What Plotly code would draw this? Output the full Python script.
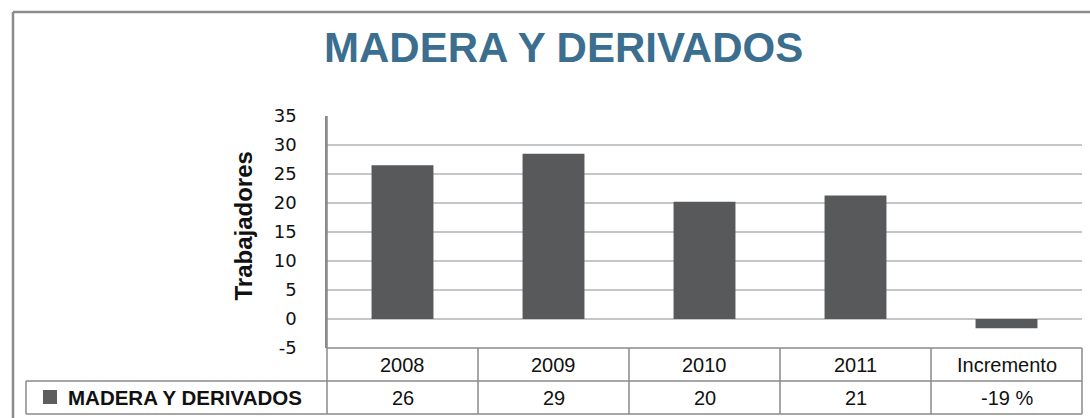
import plotly.graph_objects as go

# ---- data ----
categorias = ["2008", "2009", "2010", "2011", "Incremento"]
valores = [26.5, 28.5, 20.2, 21.3, -1.6]
etiquetas_tabla = ["26", "29", "20", "21", "-19 %"]
serie = "MADERA Y DERIVADOS"
titulo = "MADERA Y DERIVADOS"
eje_y = "Trabajadores"
y_ticks = [-5, 0, 5, 10, 15, 20, 25, 30, 35]
y_tick_text = ["-5", "0", "5", "10", "15", "20", "25", "30", "35"]

W, H = 1090, 418
L, R, T, B = 327, 8, 116, 70
pw, ph = W - L - R, H - T - B

def px_x(p):
    return (p - L) / pw

def px_y(p):
    return (H - B - p) / ph

FONT = "Liberation Sans, Arial, sans-serif"
TICKFONT = "DejaVu Sans, Verdana, sans-serif"
BAR = "#58595b"
LINE = "#8a8a8a"

fig = go.Figure()
fig.add_trace(go.Bar(x=list(range(len(categorias))), y=valores, marker_color=BAR, width=0.41,
                     marker_line_width=0, showlegend=False, hoverinfo="skip"))

row_mid = px_y(381)
row_bot = px_y(414)

shapes = []
# table outline
shapes.append(dict(type="line", xref="paper", yref="paper", x0=0, x1=1, y0=0, y1=0,
                   line=dict(color=LINE, width=1.5)))
shapes.append(dict(type="line", xref="paper", yref="paper", x0=px_x(26), x1=1, y0=row_mid, y1=row_mid,
                   line=dict(color=LINE, width=1.5)))
shapes.append(dict(type="line", xref="paper", yref="paper", x0=px_x(26), x1=1, y0=row_bot, y1=row_bot,
                   line=dict(color=LINE, width=1.5)))
shapes.append(dict(type="line", xref="paper", yref="paper", x0=0, x1=0, y0=row_bot, y1=1,
                   line=dict(color=LINE, width=1.5)))
shapes.append(dict(type="line", xref="paper", yref="paper", x0=1, x1=1, y0=row_bot, y1=0,
                   line=dict(color=LINE, width=1.5)))
shapes.append(dict(type="line", xref="paper", yref="paper", x0=px_x(26), x1=px_x(26), y0=row_bot, y1=row_mid,
                   line=dict(color=LINE, width=1.5)))
for i in range(len(categorias) - 1):
    shapes.append(dict(type="line", xref="x", yref="paper", x0=i + 0.5, x1=i + 0.5, y0=row_bot, y1=0,
                       line=dict(color=LINE, width=1.5)))
# outer frame
shapes.append(dict(type="line", xref="paper", yref="paper", x0=px_x(13), x1=px_x(1090), y0=px_y(12), y1=px_y(12),
                   line=dict(color="#8c8c8c", width=2.5)))
shapes.append(dict(type="line", xref="paper", yref="paper", x0=px_x(13), x1=px_x(13), y0=px_y(12), y1=px_y(420),
                   line=dict(color="#8c8c8c", width=2.5)))
# legend key
shapes.append(dict(type="rect", xref="paper", yref="paper", x0=px_x(43), x1=px_x(57), y0=px_y(404), y1=px_y(390),
                   fillcolor="#5e5e60", line=dict(width=0)))

annotations = []
for i, (c, lab) in enumerate(zip(categorias, etiquetas_tabla)):
    annotations.append(dict(x=i, xref="x", y=px_y(364.5), yref="paper", text=c, showarrow=False,
                            xanchor="center", yanchor="middle", font=dict(family=FONT, size=20, color="#111")))
    annotations.append(dict(x=i, xref="x", y=px_y(397.5), yref="paper", text=lab, showarrow=False,
                            xanchor="center", yanchor="middle", font=dict(family=FONT, size=20, color="#111")))
annotations.append(dict(x=px_x(66), xref="paper", y=px_y(397.5), yref="paper", text="<b>" + serie + "</b>",
                        showarrow=False, xanchor="left", yanchor="middle",
                        font=dict(family=FONT, size=20.5, color="#111")))
annotations.append(dict(x=px_x(563), xref="paper", y=px_y(47), yref="paper", text="<b>" + titulo + "</b>",
                        showarrow=False, xanchor="center", yanchor="middle",
                        font=dict(family=FONT, size=42, color="#3b6e8f")))
annotations.append(dict(x=px_x(242.5), xref="paper", y=px_y(226), yref="paper", text="<b>" + eje_y + "</b>",
                        showarrow=False, textangle=-90, xanchor="center", yanchor="middle",
                        font=dict(family=FONT, size=24, color="#111")))

fig.update_layout(
    width=W, height=H,
    margin=dict(l=L, r=R, t=T, b=B, pad=0),
    paper_bgcolor="white", plot_bgcolor="white",
    shapes=shapes, annotations=annotations,
)
fig.update_xaxes(range=[-0.5, len(categorias) - 0.5], showticklabels=False,
                 showgrid=False, showline=False, zeroline=False, ticks="")
fig.update_yaxes(range=[-5, 35], tickvals=y_ticks, ticktext=y_tick_text, showgrid=True,
                 gridcolor="#c6c6c6", gridwidth=1.5,
                 zeroline=True, zerolinecolor="#c6c6c6", zerolinewidth=1.5,
                 showline=True, linecolor=LINE, linewidth=1.5, ticks="", ticklabelstandoff=25,
                 tickfont=dict(family=TICKFONT, size=18, color="#111"))

fig.write_html("out.html", config={"displayModeBar": False},
               post_script="document.body.style.margin='0';document.body.style.overflow='hidden';")
